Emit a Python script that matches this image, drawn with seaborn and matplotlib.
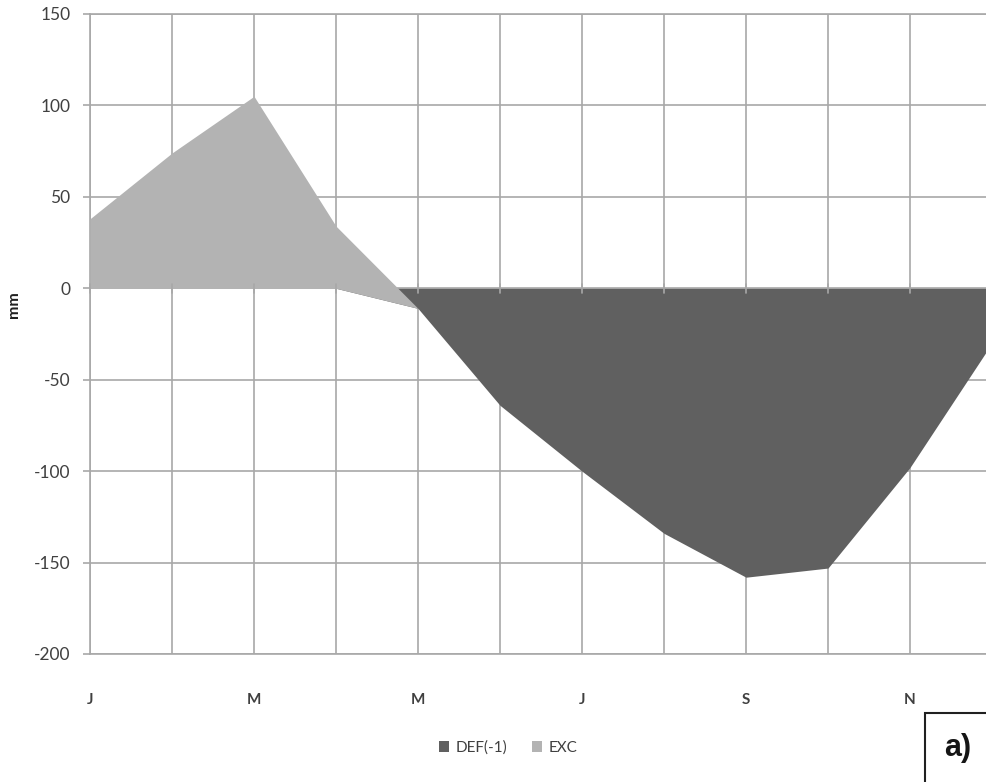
import numpy as np
import pandas as pd
import matplotlib
matplotlib.use("Agg")
import matplotlib.pyplot as plt
from matplotlib.patches import Patch, Rectangle
import seaborn as sns

months = ["J", "F", "M", "A", "M", "J", "J", "A", "S", "O", "N", "D"]
tick_labels = ["J", "", "M", "", "M", "", "J", "", "S", "", "N", ""]
def_vals = [0, 0, 0, 0, -11, -64, -100, -134, -158, -153, -98, -30]
exc_vals = [38, 74, 105, 34, 0, 0, 0, 0, 0, 0, 0, 0]
series_names = ["DEF(-1)", "EXC"]
colors = ["#606060", "#b3b3b3"]

sns.set_theme(style="white")
plt.rcParams["font.family"] = ["Lato", "DejaVu Sans"]
plt.rcParams["axes.unicode_minus"] = False

df = pd.DataFrame({"idx": np.arange(len(months)), "DEF": def_vals, "EXC": exc_vals})

fig = plt.figure(figsize=(9.87, 7.82), dpi=100)
ax = fig.add_axes([90 / 987, 1 - 654 / 782, (992 - 90) / 987, (654 - 14) / 782])

sns.lineplot(data=df, x="idx", y="DEF", ax=ax, lw=0, legend=False)
ax.stackplot(df["idx"], df["DEF"], df["EXC"], colors=colors, linewidth=0, zorder=3)

grid_c = "#a8a8a8"
ax.set_xlim(0, 11)
ax.set_ylim(-200, 150)
ax.set_yticks(np.arange(-200, 151, 50))
ax.set_xticks(df["idx"])
ax.set_xticklabels(tick_labels)
ax.grid(True, color=grid_c, lw=1.2)
ax.set_axisbelow(True)
for s in ["left", "top", "bottom", "right"]:
    ax.spines[s].set_color(grid_c)
    ax.spines[s].set_linewidth(1.2)
ax.tick_params(axis="y", which="major", left=True, length=5, width=1.2, color=grid_c,
               pad=9, labelsize=12.5, labelcolor="#404040")
ax.tick_params(axis="x", which="major", bottom=False, length=0, pad=28,
               labelsize=11, labelcolor="#404040")
for lbl in ax.get_xticklabels():
    lbl.set_fontweight("bold")
ax.set_xlabel("")
ax.set_ylabel("")

# small category-axis tick marks crossing the zero line
for i in df["idx"]:
    ax.plot([i, i], [-2.5, 2.5], color=grid_c, lw=1.2, zorder=4, clip_on=False)

fig.text(14 / 987, 1 - 305 / 782, "mm", rotation=90, fontweight="bold",
         ha="center", va="center", fontsize=11.5, color="#202020")

handles = [Patch(facecolor=c, edgecolor="none", label=n) for c, n in zip(colors, series_names)]
fig.legend(handles=handles, loc="center", bbox_to_anchor=(508 / 987, 1 - 748 / 782),
           ncol=2, frameon=False, fontsize=11, handlelength=0.7, handleheight=0.7,
           handletextpad=0.4, columnspacing=1.6, labelcolor="#404040")

fig.patches.append(Rectangle((925 / 987, 1 - 800 / 782), 0.2, (800 - 713) / 782,
                             transform=fig.transFigure, fill=False, edgecolor="#202020",
                             lw=1.5))
fig.text(958 / 987, 1 - 748 / 782, "a)", fontweight="bold", fontsize=22,
         family=["Liberation Sans", "DejaVu Sans"],
         ha="center", va="center", color="#151515")

fig.savefig("out.png", dpi=100)
